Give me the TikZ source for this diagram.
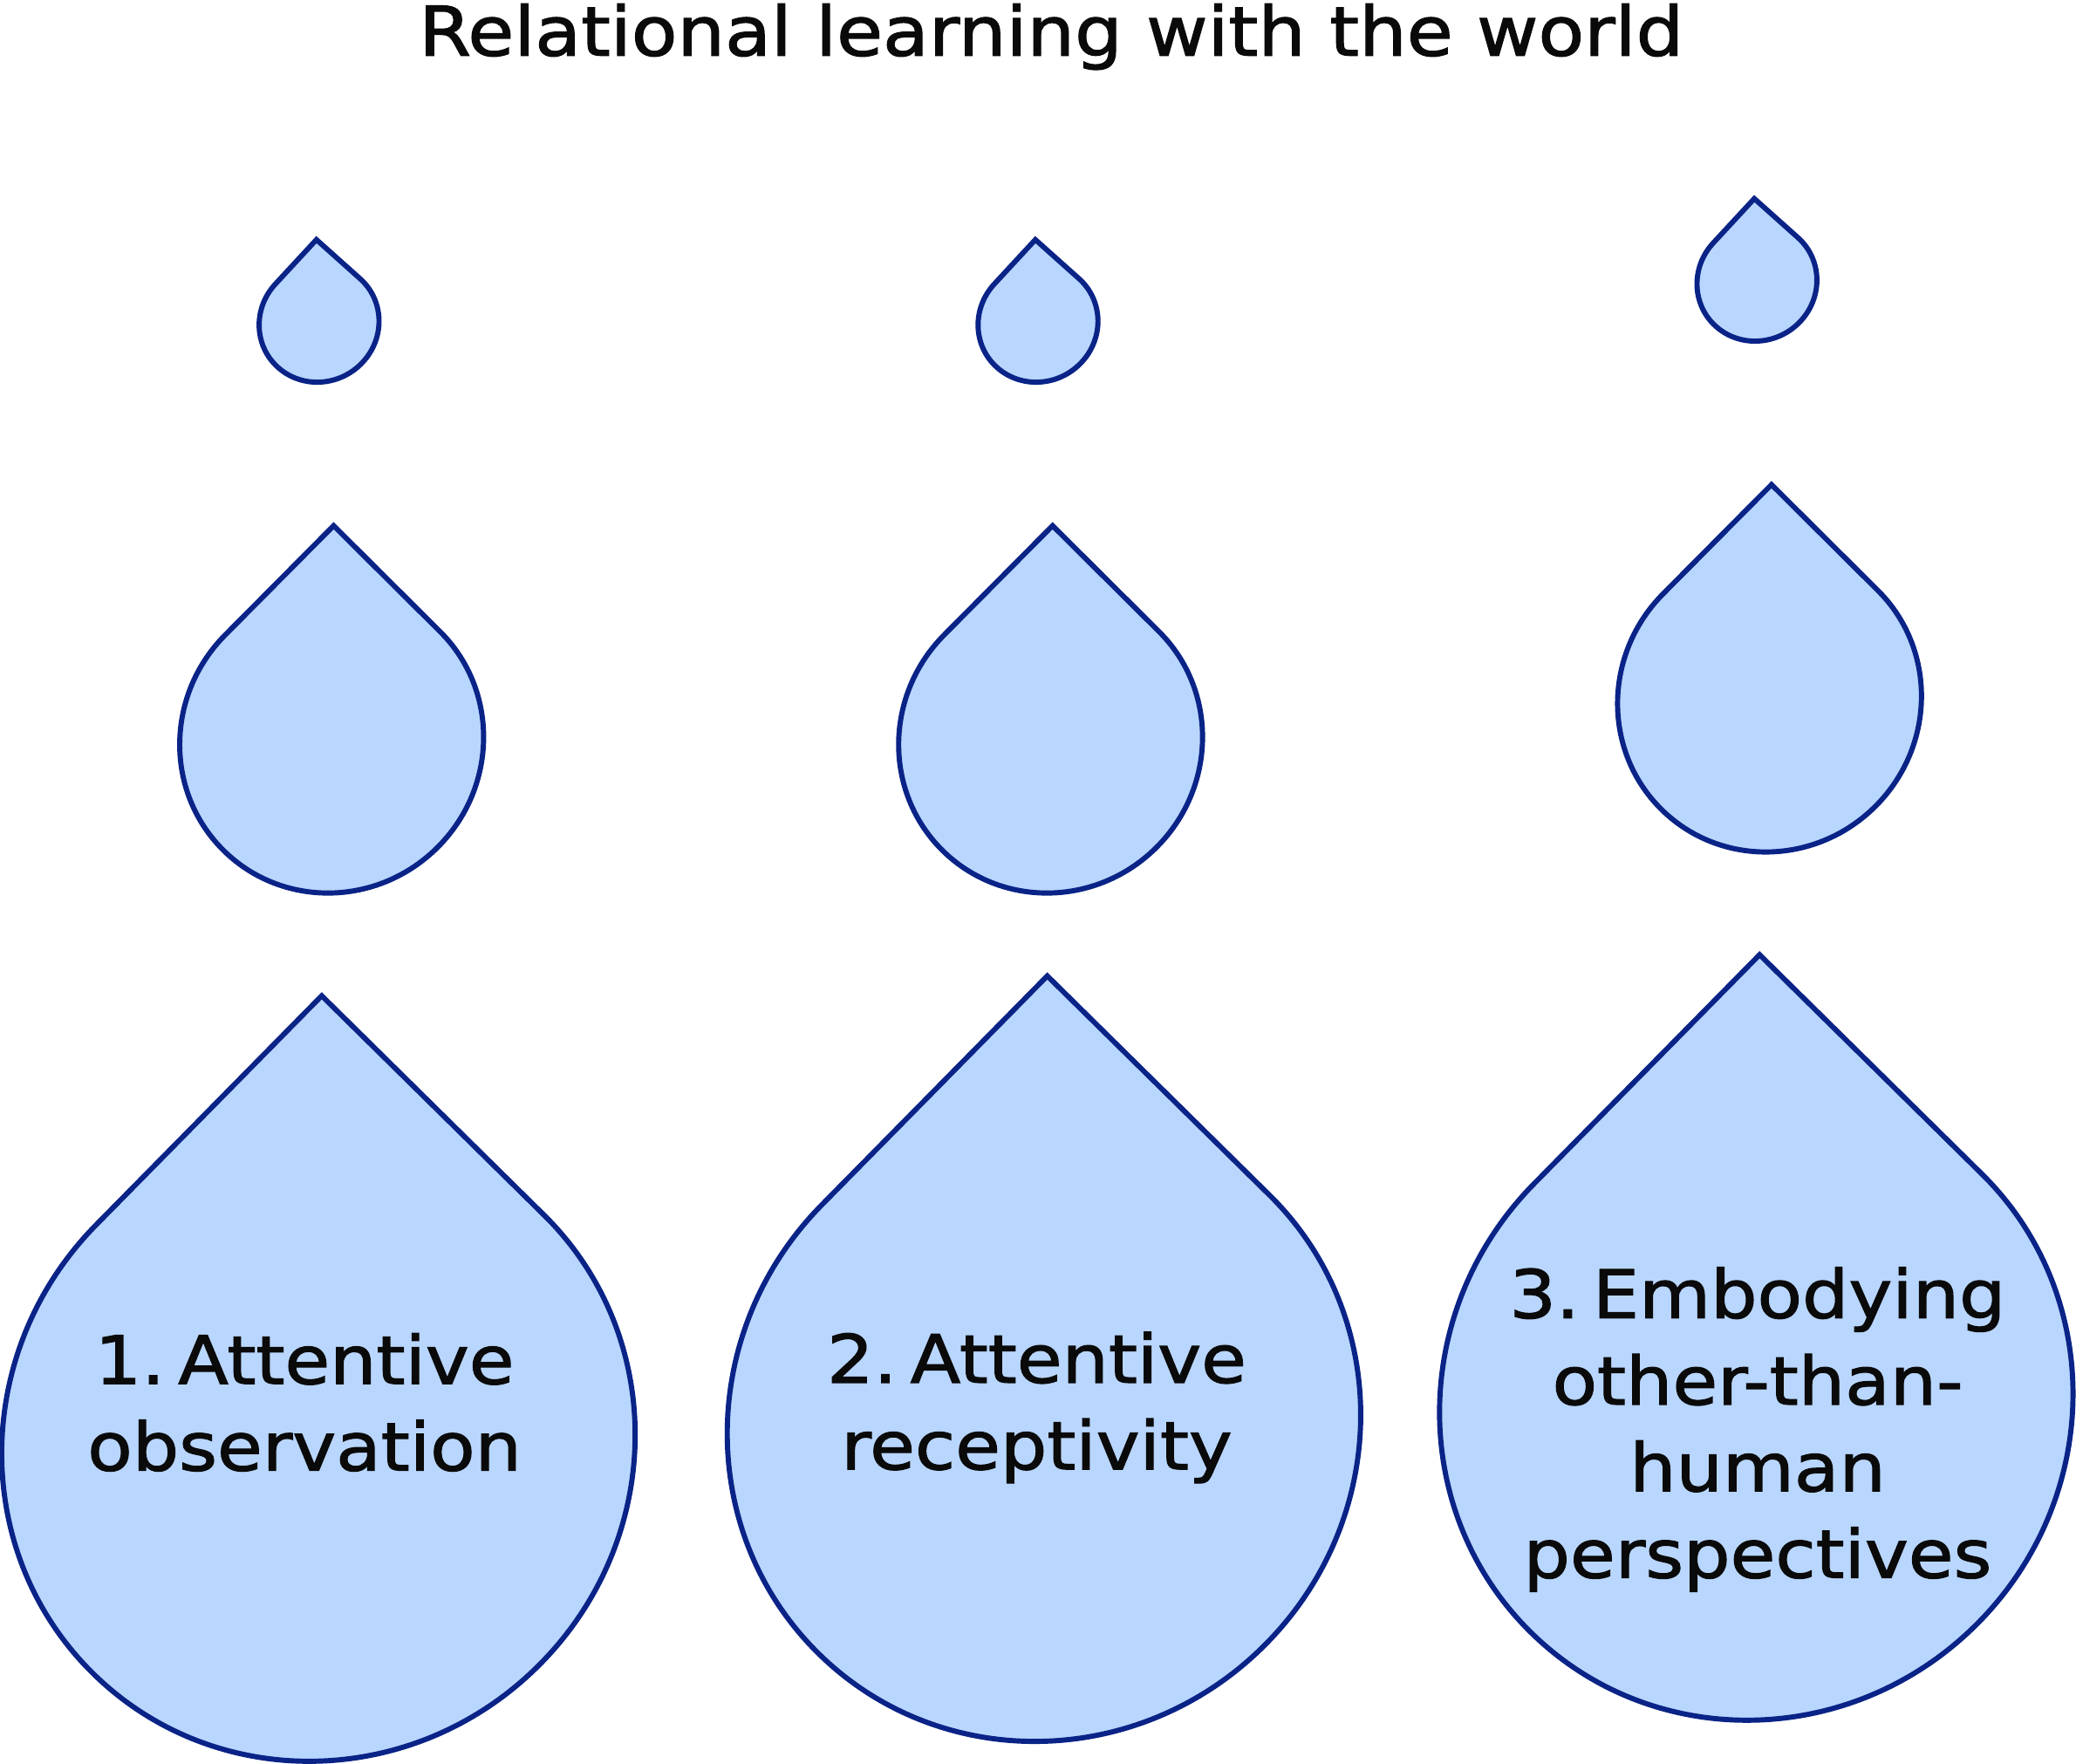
\documentclass[tikz,border=0pt]{standalone}
\usepackage{fontspec}
\setmainfont[FakeStretch=1.1,FakeBold=1.6]{DejaVu Sans}
\definecolor{dropfill}{HTML}{B9D6FE}
\definecolor{dropline}{HTML}{0A2387}
\definecolor{inktext}{HTML}{0A0A0A}
\tikzset{
  dropshape/.style={draw=dropline,fill=dropfill,line width=1.95pt,line join=miter,miter limit=10},
  titletext/.style={font=\fontsize{25.8pt}{32pt}\selectfont,text=inktext,inner sep=0pt,anchor=base},
  droptext/.style={font=\fontsize{25.2pt}{32.7pt}\selectfont,text=inktext,inner sep=0pt,align=center,anchor=center}
}
% tip x, tip y, then the two sides of the drop's square from its centre: ux, uy, vx, vy
% (reference coordinates, y down)
\newcommand{\dropat}[6]{%
  \pgfmathsetmacro{\dcx}{#1-(#3)-(#5)}%
  \pgfmathsetmacro{\dcy}{1332-(#2-(#4)-(#6))}%
  \pgfmathsetmacro{\dax}{0.5*(#3)}\pgfmathsetmacro{\day}{-0.5*(#4)}%
  \pgfmathsetmacro{\dbx}{0.5*(#5)}\pgfmathsetmacro{\dby}{-0.5*(#6)}%
  \draw[dropshape,shift={(\dcx,\dcy)},x={(\dax pt,\day pt)},y={(\dbx pt,\dby pt)}]
    (1,1) -- (1,0)
    .. controls (1,-0.5523) and (0.5523,-1) .. (0,-1)
    .. controls (-0.5523,-1) and (-1,-0.5523) .. (-1,0)
    .. controls (-1,0.5523) and (-0.5523,1) .. (0,1) -- cycle;%
}
\newcommand{\smalldrop}[2]{\dropat{#1}{#2}{31}{-33.5}{-33}{-29.5}}
\newcommand{\middrop}[2]{\dropat{#1}{#2}{81.9}{-82.5}{-80.4}{-80.0}}
\newcommand{\largedrop}[2]{\dropat{#1}{#2}{170.4}{-173}{-167.9}{-165.6}}
\begin{document}
\begin{tikzpicture}[x=0.5pt,y=0.5pt]
\useasboundingbox (0,0) rectangle (1568,1332);
\fill[white] (0,0) rectangle (1568,1332);
\smalldrop{239}{181}
\smalldrop{782}{181}
\smalldrop{1325}{150}
\middrop{252}{397}
\middrop{795}{397}
\middrop{1338}{366}
\largedrop{243}{752}
\largedrop{791}{737}
\largedrop{1329}{721}
\node[titletext] (title) at (794,1290) {Relational learning with the world};
\node[droptext] (a) at (230,273) {1.\hspace{.2em}Attentive\\observation};
\node[droptext] (b) at (783,269) {2.\hspace{.2em}Attentive\\receptivity};
\node[droptext] (c) at (1327.5,252.5) {3.\hspace{.2em}Embodying\\other-than-\\human\\perspectives};
\end{tikzpicture}
\end{document}
